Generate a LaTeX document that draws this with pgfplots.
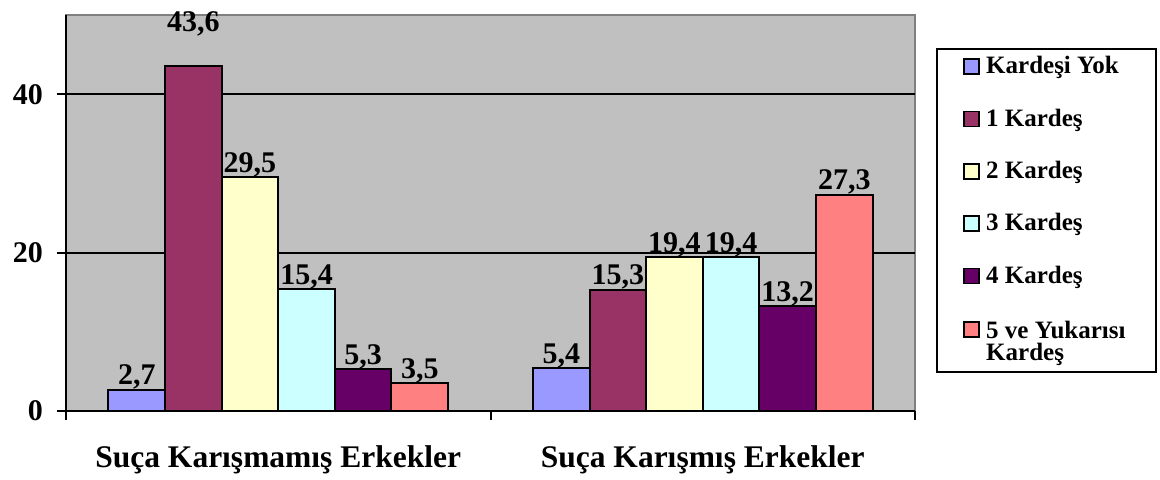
\documentclass[border=0pt]{standalone}
\usepackage{fontspec}
\setmainfont{Liberation Serif}
\usepackage{pgfplots}
\usepackage{pgfplotstable}
\pgfplotsset{compat=1.18}
\definecolor{bgc}{HTML}{C0C0C0}
\definecolor{cA}{HTML}{9999FF}
\definecolor{cB}{HTML}{993366}
\definecolor{cC}{HTML}{FFFFCC}
\definecolor{cD}{HTML}{CCFFFF}
\definecolor{cE}{HTML}{660066}
\definecolor{cF}{HTML}{FF8080}
% x = category position (0 or 1) plus the bar's offset within its group
\pgfplotstableread{
x y off
-0.333333 2.7 0
0.666667 5.4 0
}\tA
\pgfplotstableread{
x y off
-0.2 43.6 14.5
0.8 15.3 0
}\tB
\pgfplotstableread{
x y off
-0.066667 29.5 0
0.933333 19.4 0
}\tC
\pgfplotstableread{
x y off
0.066667 15.4 0
1.066667 19.4 0
}\tD
\pgfplotstableread{
x y off
0.2 5.3 0
1.2 13.2 0
}\tE
\pgfplotstableread{
x y off
0.333333 3.5 0
1.333333 27.3 0
}\tF
\begin{document}
\begin{tikzpicture}
\useasboundingbox (0,0) rectangle (580pt,239.5pt);
\begin{axis}[
  at={(33pt,34pt)}, anchor=south west,
  scale only axis, width=424.5pt, height=198pt,
  xmin=-0.5, xmax=1.5, ymin=0, ymax=50,
  /pgf/number format/assume math mode=true,
  axis background/.style={fill=bgc, draw=gray, line width=1pt},
  axis x line*=bottom, axis y line*=left,
  axis line style={-, line width=1.3pt, black},
  ytick={0,20,40}, ymajorgrids, grid style={black, line width=1pt},
  tick align=outside, major tick length=4.5pt, tick style={black, line width=1pt},
  xtick={-0.5,0.5,1.5}, xticklabels={},
  extra x ticks={0,1},
  extra x tick labels={Suça Karışmamış Erkekler, Suça Karışmış Erkekler},
  extra x tick style={major tick length=0pt, xticklabel style={yshift=-14pt, font=\fontsize{15.75}{17}\selectfont\bfseries}},
  tick label style={font=\fontsize{15}{17}\selectfont\bfseries},
  yticklabel style={xshift=-3.5pt},
  clip=false,
  every axis plot/.append style={draw=black, line width=1pt},
  lbl/.style={
    nodes near coords, point meta=y,
    visualization depends on={\thisrow{off} \as \myoff},
    every node near coord/.append style={font=\fontsize{15}{17}\selectfont\bfseries, anchor=base, inner sep=0pt, yshift=2.5pt+\myoff pt, text=black},
    /pgf/number format/use comma, /pgf/number format/fixed,
    /pgf/number format/fixed zerofill, /pgf/number format/precision=1
  },
  legend image code/.code={\draw[#1,draw=black,line width=0.8pt] (0pt,-3.75pt) rectangle (7.5pt,3.75pt); \path[draw=none,fill=none] (0pt,0pt) -- (9pt,0pt);},
  legend cell align=left,
  legend style={at={(1,1)}, anchor=north west, xshift=11pt, yshift=-17pt,
    draw=none, fill=none, name=leg,
    font=\fontsize{12.5}{14.5}\selectfont\bfseries,
    row sep=12pt, inner xsep=13pt, inner ysep=1.5pt},
]
\addplot[ybar, bar width=0.133333, bar shift=0, fill=cA, lbl] table[x=x,y=y] {\tA};
\addlegendentry{Kardeşi Yok}
\addplot[ybar, bar width=0.133333, bar shift=0, fill=cB, lbl] table[x=x,y=y] {\tB};
\addlegendentry{1 Kardeş}
\addplot[ybar, bar width=0.133333, bar shift=0, fill=cC, lbl] table[x=x,y=y] {\tC};
\addlegendentry{2 Kardeş}
\addplot[ybar, bar width=0.133333, bar shift=0, fill=cD, lbl] table[x=x,y=y] {\tD};
\addlegendentry{3 Kardeş}
\addplot[ybar, bar width=0.133333, bar shift=0, fill=cE, lbl] table[x=x,y=y] {\tE};
\addlegendentry{4 Kardeş}
\addplot[ybar, bar width=0.133333, bar shift=0, fill=cF, lbl] table[x=x,y=y] {\tF};
\addlegendentry{\begin{tabular}[t]{@{}l@{}}5 ve Yukarısı\\[-3.5pt]Kardeş\end{tabular}}
\end{axis}
\draw[line width=1pt] (leg.north west) rectangle ([yshift=-11.5pt]leg.south east);
\end{tikzpicture}
\end{document}
